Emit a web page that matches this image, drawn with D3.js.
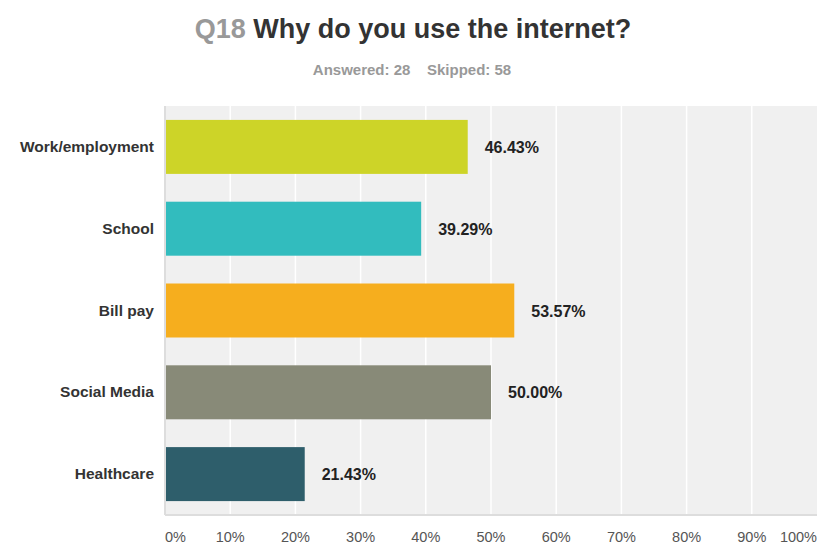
<!DOCTYPE html>
<html>
<head>
<meta charset="utf-8">
<script src="https://cdn.jsdelivr.net/npm/d3@7"></script>
<style>
body { margin: 0; background: #fff; font-family: "Liberation Sans", Arial, sans-serif; }
</style>
</head>
<body>
<script>
var categories = ["Work/employment", "School", "Bill pay", "Social Media", "Healthcare"];
var values = [46.43, 39.29, 53.57, 50.00, 21.43];
var colors = ["#cdd428", "#32bcbe", "#f6ae1e", "#888a78", "#2e5e6b"];
var tickValues = [0, 10, 20, 30, 40, 50, 60, 70, 80, 90, 100];

var width = 829, height = 544;
var plotLeft = 165, plotRight = 817, plotTop = 106, plotBottom = 515;

var svg = d3.select("body").append("svg")
	.attr("width", width)
	.attr("height", height);

// title
var title = svg.append("text")
	.attr("x", 413)
	.attr("y", 38)
	.attr("text-anchor", "middle")
	.attr("font-size", "27px")
	.attr("font-weight", "bold");
title.append("tspan").attr("fill", "#999").text("Q18 ");
title.append("tspan").attr("fill", "#333").text("Why do you use the internet?");

svg.append("text")
	.attr("x", 412)
	.attr("y", 75)
	.attr("text-anchor", "middle")
	.attr("font-size", "15px")
	.attr("font-weight", "bold")
	.attr("fill", "#999")
	.attr("xml:space", "preserve")
	.text("Answered: 28    Skipped: 58");

var x = d3.scaleLinear().domain([0, 100]).range([plotLeft, plotRight]);
var y = d3.scaleBand().domain(categories).range([plotTop, plotBottom]).paddingInner(0.34).paddingOuter(0.17);

svg.append("rect")
	.attr("x", plotLeft).attr("y", plotTop)
	.attr("width", plotRight - plotLeft).attr("height", plotBottom - plotTop)
	.attr("fill", "#f0f0f0");

svg.selectAll("line.grid")
	.data(tickValues.slice(1, -1))
	.enter().append("line")
		.attr("class", "grid")
		.attr("x1", function(d) { return x(d); })
		.attr("x2", function(d) { return x(d); })
		.attr("y1", plotTop)
		.attr("y2", plotBottom)
		.attr("stroke", "#fff")
		.attr("stroke-width", 1.5);

// axis lines
svg.append("line")
	.attr("x1", plotLeft).attr("x2", plotLeft).attr("y1", plotTop).attr("y2", plotBottom)
	.attr("stroke", "#ddd").attr("stroke-width", 2);
svg.append("line")
	.attr("x1", plotLeft).attr("x2", plotRight).attr("y1", plotBottom).attr("y2", plotBottom)
	.attr("stroke", "#ddd").attr("stroke-width", 2);

svg.selectAll("rect.bar")
	.data(values)
	.enter().append("rect")
		.attr("class", "bar")
		.attr("x", plotLeft + 1)
		.attr("y", function(d, i) { return y(categories[i]); })
		.attr("width", function(d) { return x(d) - plotLeft - 1; })
		.attr("height", y.bandwidth())
		.attr("fill", function(d, i) { return colors[i]; });

svg.selectAll("text.val")
	.data(values)
	.enter().append("text")
		.attr("class", "val")
		.attr("x", function(d) { return x(d) + 17; })
		.attr("y", function(d, i) { return y(categories[i]) + y.bandwidth() / 2 + 6; })
		.attr("font-size", "16px")
		.attr("font-weight", "bold")
		.attr("fill", "#222")
		.text(function(d) { return d.toFixed(2) + "%"; });

svg.selectAll("text.cat")
	.data(categories)
	.enter().append("text")
		.attr("class", "cat")
		.attr("x", 154)
		.attr("y", function(d) { return y(d) + y.bandwidth() / 2 + 5; })
		.attr("text-anchor", "end")
		.attr("font-size", "15.5px")
		.attr("font-weight", "bold")
		.attr("fill", "#333")
		.text(function(d) { return d; });

svg.selectAll("text.tick")
	.data(tickValues)
	.enter().append("text")
		.attr("class", "tick")
		.attr("x", function(d) { return x(d); })
		.attr("y", 542)
		.attr("text-anchor", function(d) { return d === 0 ? "start" : (d === 100 ? "end" : "middle"); })
		.attr("font-size", "14.5px")
		.attr("fill", "#555")
		.text(function(d) { return d + "%"; });
</script>
</body>
</html>
